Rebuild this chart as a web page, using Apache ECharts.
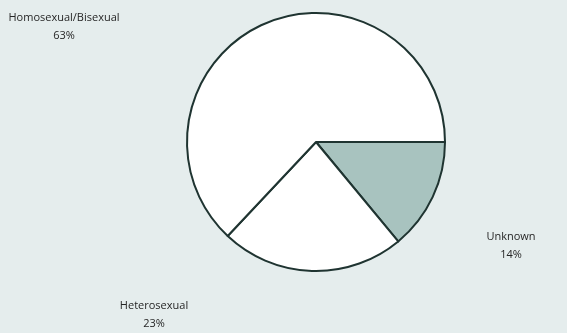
<!DOCTYPE html>
<html>
<head>
<meta charset="utf-8">
<script src="https://cdn.jsdelivr.net/npm/echarts@6/dist/echarts.min.js"></script>
<style>
  html, body { margin: 0; padding: 0; background: #e5eded; }
  #chart { width: 567px; height: 333px; }
</style>
</head>
<body>
<div id="chart"></div>
<script>
// Transmission categories and their shares (%), clockwise from 3 o'clock
const categories = ['Unknown', 'Heterosexual', 'Homosexual/Bisexual'];
const shares = [14, 23, 63];
const sliceColors = ['#a8c3bf', '#ffffff', '#ffffff'];

// Label anchor points (centre of the two-line label block)
const labelSpots = [
  { x: 511, y: 246 },
  { x: 154, y: 315 },
  { x: 64, y: 27 }
];

const chart = echarts.init(document.getElementById('chart'), null, { renderer: 'canvas' });

chart.setOption({
  backgroundColor: '#e5eded',
  animation: false,
  series: [{
    type: 'pie',
    center: [316, 142],
    radius: 129,
    startAngle: 0,
    clockwise: true,
    avoidLabelOverlap: false,
    data: categories.map((name, i) => ({
      name,
      value: shares[i],
      itemStyle: { color: sliceColors[i] }
    })),
    itemStyle: { borderColor: '#1f3431', borderWidth: 2 },
    emphasis: { disabled: true },
    label: {
      show: true,
      position: 'outside',
      formatter: p => p.name + '\n' + p.value + '%',
      fontFamily: 'Open Sans',
      fontSize: 11,
      lineHeight: 18,
      color: '#262626',
      align: 'center'
    },
    labelLine: { show: false },
    labelLayout: params => {
      const s = labelSpots[params.dataIndex];
      return { x: s.x, y: s.y, align: 'center', verticalAlign: 'middle' };
    }
  }]
});
</script>
</body>
</html>
